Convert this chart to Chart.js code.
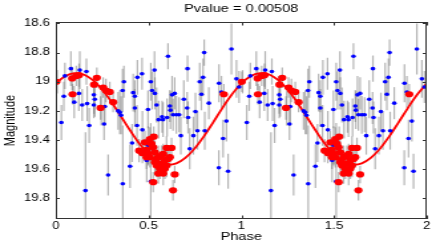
<!DOCTYPE html>
<html><head><meta charset="utf-8">
<script src="https://cdn.jsdelivr.net/npm/chart.js@4/dist/chart.umd.min.js"></script>
<style>html,body{margin:0;padding:0;background:#fff;overflow:hidden}
#c{display:block}</style>
</head><body>
<canvas id="c" width="328" height="245" style="width:436px;height:245px"></canvas>
<script>
// ---- data (phase 0-1; the plot shows two cycles, 0-2) ----
const cycles = [0, 1];
const bluePhase = [0.007,0.03,0.043,0.049,0.081,0.099,0.124,0.129,0.142,0.16,
  0.165,0.169,0.18,0.205,0.205,0.21,0.245,0.26,0.264,0.282,
  0.336,0.345,0.352,0.36,0.361,0.367,0.40,0.411,0.417,0.426,
  0.426,0.438,0.44,0.465,0.467,0.49,0.497,0.498,0.512,0.512,
  0.519,0.532,0.534,0.543,0.554,0.573,0.578,0.60,0.605,0.615,
  0.618,0.627,0.632,0.641,0.65,0.665,0.674,0.69,0.708,0.71,
  0.713,0.722,0.742,0.753,0.764,0.776,0.785,0.794,0.80,0.803,
  0.825,0.879,0.88,0.893,0.902,0.92,0.929,0.947,0.974,0.988];
const blueMag = [19.00,19.28,19.10,18.96,18.91,19.14,19.08,18.92,19.16,19.747,
  18.93,19.15,19.30,19.09,19.16,19.12,19.18,19.29,19.17,19.64,
  19.20,19.21,19.23,19.06,19.70,19.00,19.58,19.42,19.075,19.10,
  19.18,19.30,18.97,18.945,19.33,19.54,19.19,19.436,19.00,19.684,
  19.06,18.92,19.08,19.16,19.26,19.24,19.26,19.245,18.825,19.166,
  19.195,19.09,19.227,19.08,19.227,19.227,19.37,19.12,19.18,18.91,
  19.245,19.46,19.37,19.205,19.336,19.00,19.086,18.97,18.80,19.336,
  19.147,19.59,19.01,19.07,19.39,19.27,19.614,18.775,18.98,19.036];
const blueErr = [0.08,0.12,0.10,0.09,0.12,0.11,0.12,0.13,0.11,0.40,
  0.09,0.12,0.12,0.13,0.09,0.12,0.12,0.11,0.13,0.14,
  0.13,0.15,0.13,0.15,0.40,0.11,0.15,0.13,0.13,0.11,
  0.13,0.14,0.12,0.11,0.13,0.15,0.13,0.13,0.13,0.40,
  0.13,0.13,0.11,0.12,0.13,0.11,0.12,0.13,0.09,0.11,
  0.13,0.13,0.11,0.11,0.13,0.12,0.13,0.13,0.11,0.09,
  0.11,0.14,0.13,0.13,0.13,0.13,0.11,0.13,0.09,0.13,
  0.11,0.12,0.13,0.11,0.13,0.14,0.12,0.175,0.13,0.11];
const redPhase = [0.003,0.088,0.11,0.125,0.09,0.221,0.206,0.255,0.27,0.291,0.309,0.241,0.906,
  0.507,0.528,0.525,0.489,0.449,0.467,0.498,0.507,0.539,0.552,
  0.57,0.597,0.624,0.606,0.588,0.57,0.543,0.561,0.588,0.579,
  0.552,0.525,0.641,0.632,0.48,0.516,0.534,0.579,0.615,0.597,
  0.534,0.489];
const redMag = [19.00,18.977,18.96,18.955,19.086,18.973,19.02,19.04,19.06,19.07,19.14,19.18,19.086,
  19.393,19.377,19.45,19.468,19.473,19.49,19.495,19.518,19.54,19.518,
  19.507,19.454,19.454,19.53,19.54,19.563,19.575,19.597,19.597,19.63,
  19.63,19.689,19.636,19.745,19.416,19.427,19.484,19.495,19.518,19.575,
  19.552,19.518];
const redErr = [0.07,0.08,0.07,0.08,0.07,0.07,0.06,0.07,0.08,0.07,0.07,0.08,0.07,
  0.08,0.07,0.08,0.07,0.08,0.07,0.08,0.07,0.07,0.08,
  0.07,0.08,0.07,0.07,0.08,0.07,0.08,0.07,0.07,0.08,
  0.07,0.07,0.06,0.07,0.08,0.07,0.08,0.07,0.07,0.08,
  0.07,0.08];
const curvePhase = [0,0.05,0.1,0.15,0.2,0.25,0.3,0.35,0.4,0.45,0.5,0.55,0.6,0.65,0.7,0.75,0.8,0.85,0.9,0.95,1,
  1.05,1.1,1.15,1.2,1.25,1.3,1.35,1.4,1.45,1.5,1.55,1.6,1.65,1.7,1.75,1.8,1.85,1.9,1.95,2];
const curveMag = [19.012,18.962,18.941,18.950,18.989,19.054,19.139,19.235,19.333,19.424,19.498,19.548,19.569,19.560,19.521,19.456,19.371,19.275,19.177,19.086,19.012,
  18.962,18.941,18.950,18.989,19.054,19.139,19.235,19.333,19.424,19.498,19.548,19.569,19.560,19.521,19.456,19.371,19.275,19.177,19.086,19.012];
const xTicks = [0,0.5,1,1.5,2];
const yTicks = [18.6,18.8,19,19.2,19.4,19.6,19.8];
const titleText = 'Pvalue = 0.00508';
const xLabel = 'Phase';
const yLabel = 'Magnitude';

// ---- build tables for the library ----
function folded(ph, mg, er) {
  const pts = [];
  cycles.forEach(c => ph.forEach((p, i) => pts.push({x: p + c, y: mg[i], e: er[i]})));
  return pts;
}
const bluePts = folded(bluePhase, blueMag, blueErr);
const redPts = folded(redPhase, redMag, redErr);
const curvePts = curvePhase.map((p, i) => ({x: p, y: curveMag[i]}));

const errorBars = {
  id: 'errorBars',
  beforeDatasetsDraw(chart) {
    const {ctx, chartArea: a, scales: {x, y}} = chart;
    ctx.save();
    ctx.beginPath(); ctx.rect(a.left, a.top, a.right - a.left, a.bottom - a.top); ctx.clip();
    ctx.strokeStyle = 'rgba(120,120,120,0.55)';
    ctx.lineWidth = 1.2;
    chart.data.datasets.forEach(ds => {
      if (!ds.errorBars) return;
      ds.data.forEach(p => {
        const px = x.getPixelForValue(p.x);
        ctx.beginPath();
        ctx.moveTo(px, y.getPixelForValue(p.y - p.e));
        ctx.lineTo(px, y.getPixelForValue(p.y + p.e));
        ctx.stroke();
      });
    });
    ctx.restore();
  }
};
const frame = {
  id: 'frame',
  afterDraw(chart) {
    const {ctx, chartArea: a, scales: {x, y}} = chart;
    ctx.save();
    ctx.strokeStyle = '#333';
    ctx.lineWidth = 1;
    ctx.strokeRect(a.left + 0.5, a.top + 0.5, a.right - a.left - 1, a.bottom - a.top - 1);
    ctx.beginPath();
    xTicks.forEach(v => {
      const px = Math.round(x.getPixelForValue(v)) + 0.5;
      ctx.moveTo(px, a.top); ctx.lineTo(px, a.top + 3.5);
      ctx.moveTo(px, a.bottom); ctx.lineTo(px, a.bottom - 3.5);
    });
    yTicks.forEach(v => {
      const py = Math.round(y.getPixelForValue(v)) + 0.5;
      ctx.moveTo(a.left, py); ctx.lineTo(a.left + 3, py);
      ctx.moveTo(a.right, py); ctx.lineTo(a.right - 3, py);
    });
    ctx.stroke();
    ctx.restore();
  }
};

Chart.defaults.font.family = '"Liberation Sans", Arial, Helvetica, sans-serif';
Chart.defaults.color = '#000';

new Chart(document.getElementById('c'), {
  type: 'scatter',
  data: {
    datasets: [
      {label: 'fit', data: curvePts, showLine: true, pointRadius: 0, borderColor: '#ff0000',
       borderWidth: 1.8, tension: 0.4, order: 3},
      {label: 'all', data: bluePts, errorBars: true, pointRadius: 1.8, pointStyle: 'circle',
       backgroundColor: '#0000ff', borderWidth: 0, order: 2},
      {label: 'sel', data: redPts, errorBars: true, pointRadius: 3.1, pointStyle: 'circle',
       backgroundColor: '#ff0000', borderWidth: 0, order: 1}
    ]
  },
  options: {
    responsive: false,
    devicePixelRatio: 1,
    animation: false,
    layout: {padding: {left: 0, right: 7, top: 0, bottom: 0}},
    plugins: {
      legend: {display: false},
      tooltip: {enabled: false},
      title: {display: true, text: titleText, fullSize: false,
              font: {size: 11, weight: 'normal'}, color: '#000',
              padding: {top: 2.4, bottom: 6.4}}
    },
    scales: {
      x: {
        type: 'linear', min: 0, max: 2,
        grid: {display: false, drawTicks: false},
        border: {display: false},
        afterBuildTicks: s => { s.ticks = xTicks.map(v => ({value: v})); },
        afterFit: s => { s.height = 26; },
        ticks: {autoSkip: false, padding: 1, font: {size: 10}, maxRotation: 0,
                callback: v => String(+Number(v).toFixed(2))},
        title: {display: true, text: xLabel, font: {size: 11}, padding: {top: 0, bottom: 1.4}}
      },
      y: {
        type: 'linear', reverse: true, min: 18.59, max: 19.942,
        grid: {display: false, drawTicks: false},
        border: {display: false},
        afterBuildTicks: s => { s.ticks = yTicks.map(v => ({value: v})); },
        afterFit: s => { s.width = 42; },
        ticks: {autoSkip: false, padding: 4.5, font: {size: 10},
                callback: v => String(+Number(v).toFixed(2))},
        title: {display: true, text: yLabel, font: {size: 11}, padding: {top: 1, bottom: 0}}
      }
    }
  },
  plugins: [errorBars, frame]
});
</script>
</body></html>
